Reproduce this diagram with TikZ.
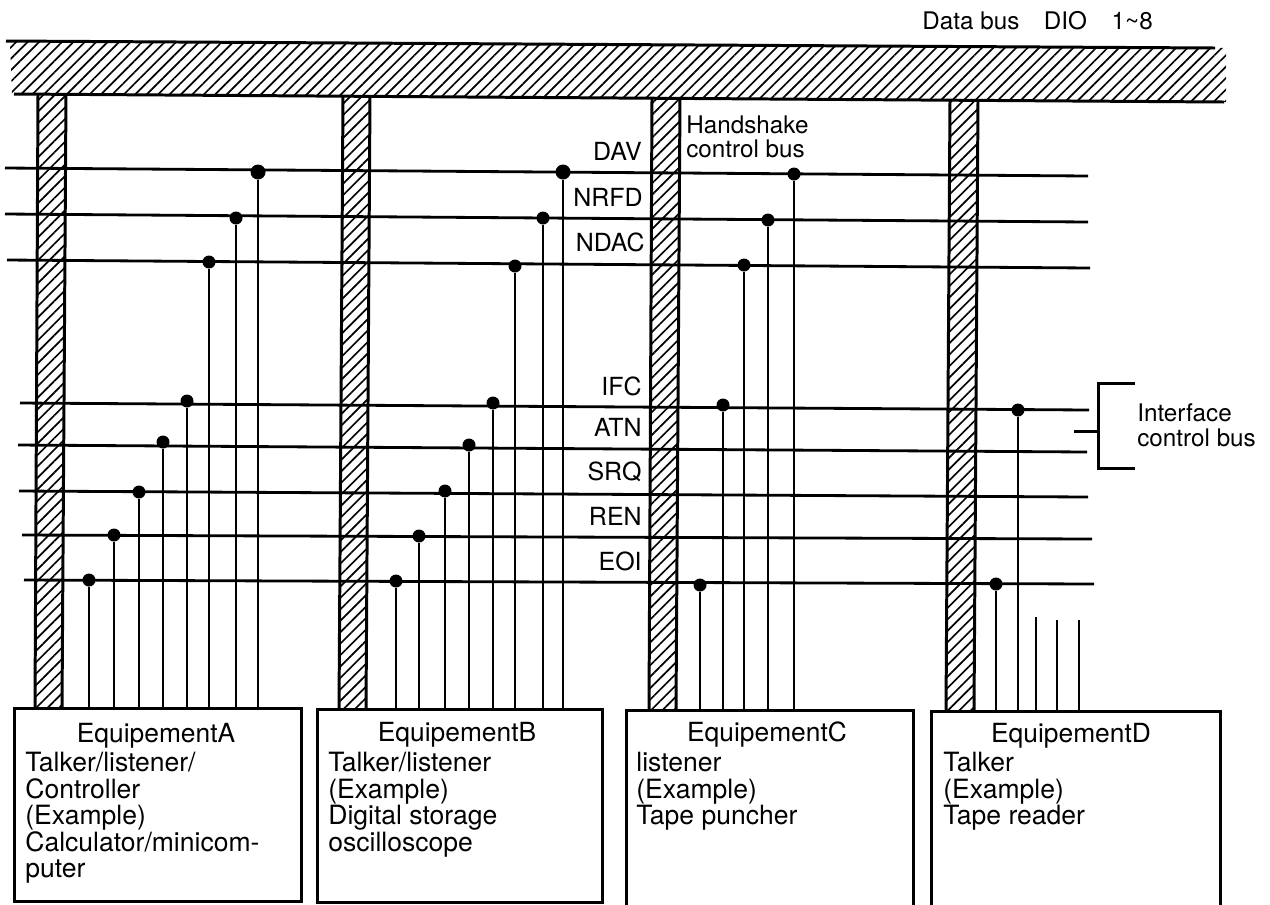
\documentclass[tikz,border=0pt]{standalone}
\usepackage{fontspec}
\setmainfont{TeX Gyre Heros}
\usetikzlibrary{patterns.meta,positioning}
\tikzset{
  busHatch/.style={pattern={Lines[angle=45,distance=4.6pt,line width=.95pt]}},
  busEdge/.style={line width=1.7pt},
  sigLine/.style={line width=1.6pt},
  leadLine/.style={line width=1.35pt},
  busDot/.style={circle,fill=black,inner sep=0pt,minimum size=2.6mm},
  sigLabel/.style={anchor=east,inner sep=0pt,font=\fontsize{14.2}{15}\selectfont},
  noteLabel/.style={anchor=west,align=left,inner sep=0pt,font=\fontsize{13.8}{14}\selectfont},
  equipBox/.style={draw,line width=1.6pt,anchor=north west,minimum width=5.74cm,minimum height=3.86cm},
  equipTitle/.style={inner sep=0pt,font=\fontsize{15}{15}\selectfont},
  equipText/.style={anchor=north west,align=left,inner sep=0pt,font=\fontsize{15.1}{15.1}\selectfont}
}
\begin{document}
\begin{tikzpicture}[x=0.02cm,y=-0.02cm]
  \useasboundingbox (0,0) rectangle (1270,904);

  \path[busHatch] (10,42) -- (1226,48) -- (1226,102) -- (12,94) -- cycle;
  \draw[busEdge] (6,41) -- (1215,48);
  \draw[busEdge] (14,94) -- (1224,102);

  \path[busHatch] (38,95) -- (66,95) -- (62,708) -- (35,708) -- cycle;
  \draw[busEdge] (38,95) -- (35,708) (66,95) -- (62,708);
  \path[busHatch] (343,96) -- (370,96) -- (366,708) -- (339,708) -- cycle;
  \draw[busEdge] (343,96) -- (339,708) (370,96) -- (366,708);
  \path[busHatch] (652,98) -- (680,98) -- (676,709) -- (649,709) -- cycle;
  \draw[busEdge] (652,98) -- (649,709) (680,98) -- (676,709);
  \path[busHatch] (950,100) -- (978,100) -- (974,710) -- (946,710) -- cycle;
  \draw[busEdge] (950,100) -- (946,710) (978,100) -- (974,710);

  \node[equipBox] (boxA) at (13,707) {};
  \node[equipBox,minimum width=5.7cm] (boxB) at (316,708) {};
  \node[equipBox,minimum height=5cm] (boxC) at (625,709) {};
  \node[equipBox,minimum width=5.78cm,minimum height=5cm] (boxD) at (930,710) {};

  \node[equipTitle] (titleA) at (156,736) {EquipementA};
  \node[equipTitle] (titleB) at (457,735) {EquipementB};
  \node[equipTitle] (titleC) at (767,735) {EquipementC};
  \node[equipTitle] (titleD) at (1071,736) {EquipementD};
  \node[equipText] (textA) at (25,752) {Talker/listener/\\Controller\\(Example)\\Calculator/minicom-\\puter};
  \node[equipText] (textB) at (328,752) {Talker/listener\\(Example)\\Digital storage\\oscilloscope};
  \node[equipText] (textC) at (636,752) {listener\\(Example)\\Tape puncher};
  \node[equipText] (textD) at (943,752) {Talker\\(Example)\\Tape reader};

  \coordinate (davL) at (5,168);
  \coordinate (davR) at (1088,176);
  \coordinate (nrfdL) at (5,214);
  \coordinate (nrfdR) at (1088,222);
  \coordinate (ndacL) at (7,260);
  \coordinate (ndacR) at (1090,268);
  \coordinate (ifcL) at (20,403);
  \coordinate (ifcR) at (1089,410);
  \coordinate (atnL) at (18,445);
  \coordinate (atnR) at (1087,452);
  \coordinate (srqL) at (19,491);
  \coordinate (srqR) at (1088,497);
  \coordinate (renL) at (22,535);
  \coordinate (renR) at (1092,539);
  \coordinate (eoiL) at (24,580);
  \coordinate (eoiR) at (1094,584);
  \draw[sigLine] (davL) -- (davR);
  \draw[sigLine] (nrfdL) -- (nrfdR);
  \draw[sigLine] (ndacL) -- (ndacR);
  \draw[sigLine] (ifcL) -- (ifcR);
  \draw[sigLine] (atnL) -- (atnR);
  \draw[sigLine] (srqL) -- (srqR);
  \draw[sigLine] (renL) -- (renR);
  \draw[sigLine] (eoiL) -- (eoiR);

  \node[busDot,minimum size=3mm] (aDav) at (258,172) {};
  \node[busDot] (aNrfd) at (236,218) {};
  \node[busDot] (aNdac) at (209,262) {};
  \node[busDot] (aIfc) at (187,401) {};
  \node[busDot] (aAtn) at (163,442) {};
  \node[busDot] (aSrq) at (139,492) {};
  \node[busDot] (aRen) at (114,535) {};
  \node[busDot] (aEoi) at (89,580) {};
  \node[busDot,minimum size=3mm] (bDav) at (563,172) {};
  \node[busDot] (bNrfd) at (543,218) {};
  \node[busDot] (bNdac) at (515,266) {};
  \node[busDot] (bIfc) at (493,403) {};
  \node[busDot] (bAtn) at (469,445) {};
  \node[busDot] (bSrq) at (445,491) {};
  \node[busDot] (bRen) at (419,536) {};
  \node[busDot] (bEoi) at (396,581) {};
  \node[busDot] (cDav) at (794,174) {};
  \node[busDot] (cNrfd) at (768,220) {};
  \node[busDot] (cNdac) at (744,265) {};
  \node[busDot] (cIfc) at (723,405) {};
  \node[busDot] (cEoi) at (700,585) {};
  \node[busDot] (dIfc) at (1018,410) {};
  \node[busDot] (dEoi) at (996,584) {};

  \draw[leadLine] (aDav) -- (aDav |- boxA.north);
  \draw[leadLine] (aNrfd) -- (aNrfd |- boxA.north);
  \draw[leadLine] (aNdac) -- (aNdac |- boxA.north);
  \draw[leadLine] (aIfc) -- (aIfc |- boxA.north);
  \draw[leadLine] (aAtn) -- (aAtn |- boxA.north);
  \draw[leadLine] (aSrq) -- (aSrq |- boxA.north);
  \draw[leadLine] (aRen) -- (aRen |- boxA.north);
  \draw[leadLine] (aEoi) -- (aEoi |- boxA.north);
  \draw[leadLine] (bDav) -- (bDav |- boxB.north);
  \draw[leadLine] (bNrfd) -- (bNrfd |- boxB.north);
  \draw[leadLine] (bNdac) -- (bNdac |- boxB.north);
  \draw[leadLine] (bIfc) -- (bIfc |- boxB.north);
  \draw[leadLine] (bAtn) -- (bAtn |- boxB.north);
  \draw[leadLine] (bSrq) -- (bSrq |- boxB.north);
  \draw[leadLine] (bRen) -- (bRen |- boxB.north);
  \draw[leadLine] (bEoi) -- (bEoi |- boxB.north);
  \draw[leadLine] (cDav) -- (cDav |- boxC.north);
  \draw[leadLine] (cNrfd) -- (cNrfd |- boxC.north);
  \draw[leadLine] (cNdac) -- (cNdac |- boxC.north);
  \draw[leadLine] (cIfc) -- (cIfc |- boxC.north);
  \draw[leadLine] (cEoi) -- (cEoi |- boxC.north);
  \draw[leadLine] (dIfc) -- (dIfc |- boxD.north);
  \draw[leadLine] (dEoi) -- (dEoi |- boxD.north);

  \coordinate (spareA) at (1036,617);
  \coordinate (spareB) at (1057,620);
  \coordinate (spareC) at (1079,620);
  \draw[leadLine] (spareA) -- (spareA |- boxD.north);
  \draw[leadLine] (spareB) -- (spareB |- boxD.north);
  \draw[leadLine] (spareC) -- (spareC |- boxD.north);

  \node[sigLabel] (labDav) at (642,151) {DAV};
  \node[sigLabel] (labNrfd) at (643,197) {NRFD};
  \node[sigLabel] (labNdac) at (645,242) {NDAC};
  \node[sigLabel] (labIfc) at (642,386) {IFC};
  \node[sigLabel] (labAtn) at (642,427) {ATN};
  \node[sigLabel] (labSrq) at (642,472) {SRQ};
  \node[sigLabel] (labRen) at (642,516) {REN};
  \node[sigLabel] (labEoi) at (642,561) {EOI};

  \node[noteLabel] (dataBus) at (922,21) {Data bus\hspace{14pt}DIO\hspace{14pt}1\textasciitilde 8};
  \node[noteLabel] (handshake) at (686,137) {Handshake\\control bus};
  \node[noteLabel] (ifaceBus) at (1137,425) {Interface\\control bus};

  \coordinate (brTop) at (1135,383);
  \coordinate (brBot) at (1135,468);
  \coordinate (brStem) at (1074,431);
  \draw[busEdge] (brTop) -- (1098,383) -- (1098,468) -- (brBot);
  \draw[busEdge] (brStem) -- (1098,431);
\end{tikzpicture}
\end{document}
